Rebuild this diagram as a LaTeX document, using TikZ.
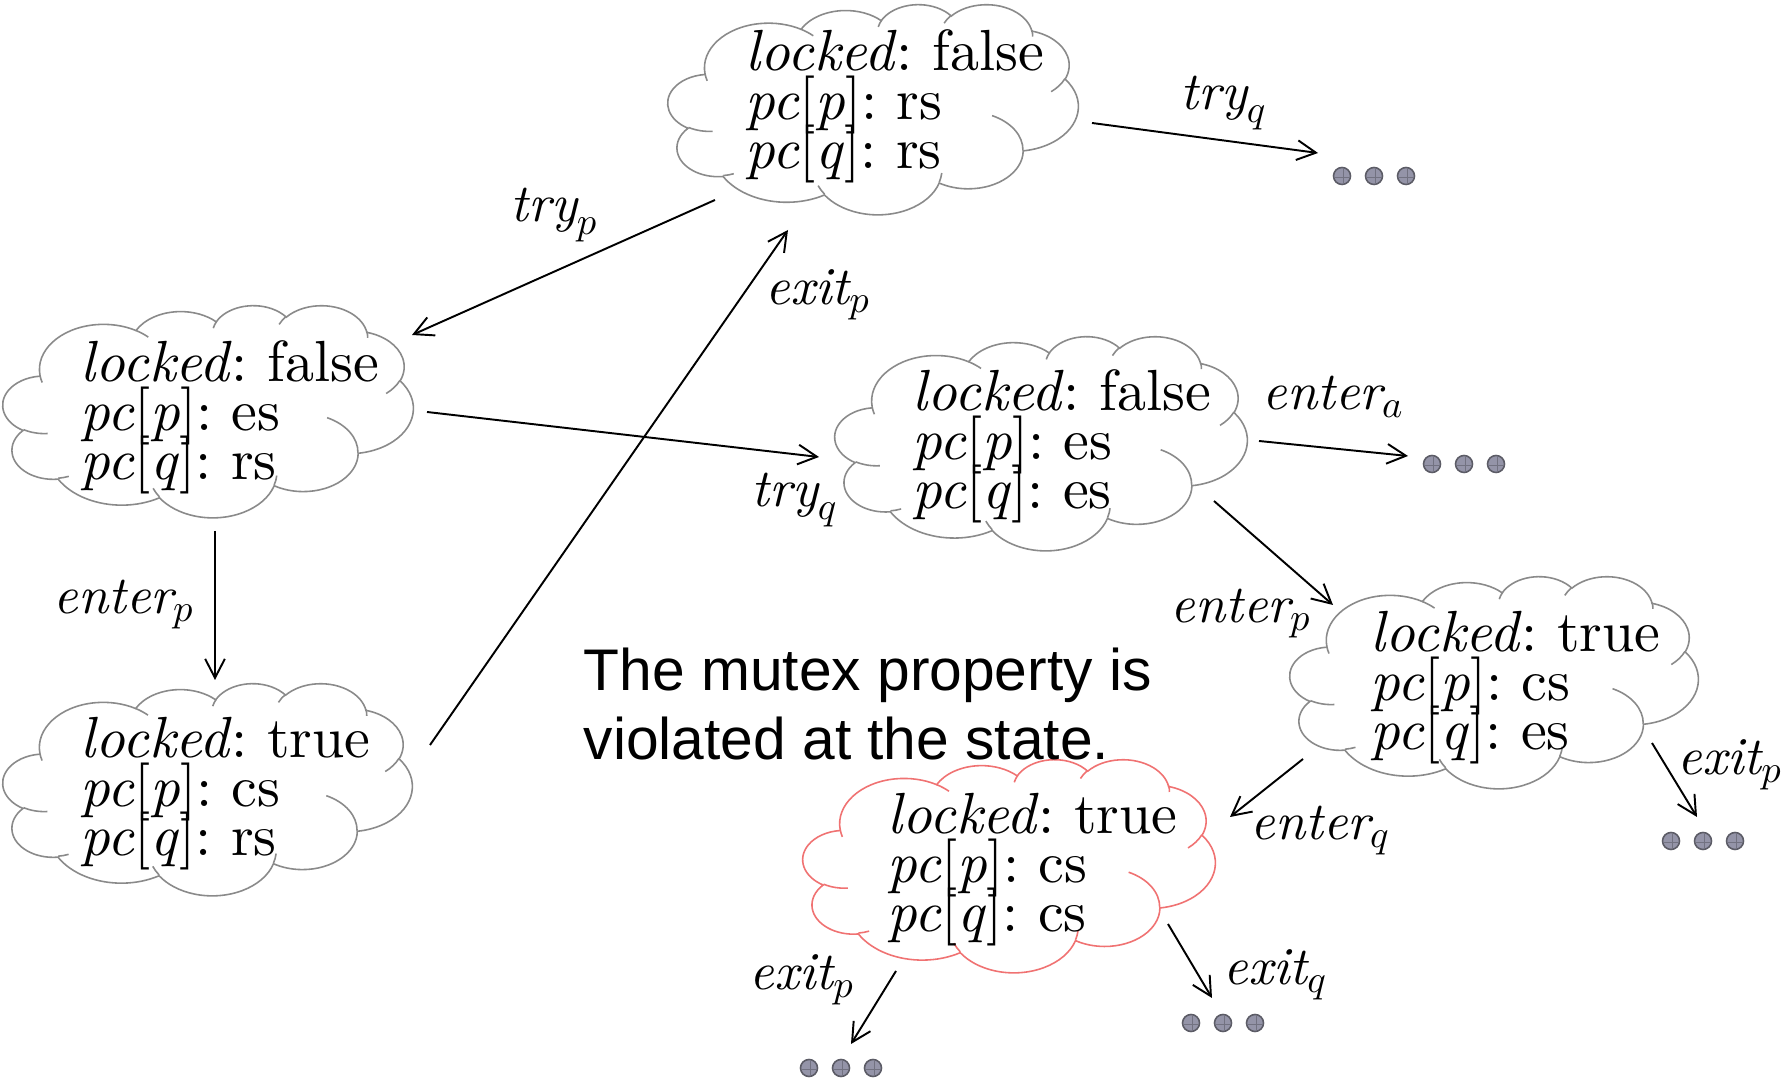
\documentclass[tikz,border=0pt]{standalone}
\usepackage{fontspec}
\setmainfont{lmroman10-regular.otf}[ItalicFont=lmroman10-italic.otf]
\newfontfamily\sansf{Liberation Sans}
\usetikzlibrary{arrows.meta}
\definecolor{cloudgray}{HTML}{8A8A8A}
\definecolor{cloudred}{HTML}{F07272}
\definecolor{dotfill}{HTML}{9494A8}
\definecolor{dotline}{HTML}{5C5C66}
\frenchspacing

% PowerPoint-like cloud: arcs given as (wR, hR, start angle, sweep) in path units (box 432 x 432)
\newcommand\ooprep[5]{%
 \pgfmathsetmacro\ooA{atan2((#2)*sin(#4),(#3)*cos(#4))}%
 \pgfmathsetmacro\ooB{atan2((#2)*sin((#4)+(#5)),(#3)*cos((#4)+(#5)))}%
 \pgfmathsetmacro\ooD{mod(\ooB-\ooA+720,360)}%
 \expandafter\xdef\csname oo#1\endcsname{arc[start angle=\ooA, delta angle=\ooD, x radius=#2, y radius=#3]}%
}
\ooprep{ma}{67.53}{91.90}{-190.4875}{123.7805}
\ooprep{mb}{53.33}{72.67}{-144.1024}{89.9452}
\ooprep{mc}{43.65}{59.45}{-145.8079}{99.7230}
\ooprep{md}{48.57}{65.95}{-130.9861}{117.2417}
\ooprep{me}{53.33}{72.73}{-78.7089}{109.0269}
\ooprep{mf}{67.75}{92.20}{-46.2673}{130.2690}
\ooprep{mg}{57.85}{78.67}{0.6250}{114.0333}
\ooprep{mh}{67.52}{92.15}{22.4516}{115.1726}
\ooprep{mi}{77.20}{105.43}{66.2426}{75.7110}
\ooprep{mj}{43.60}{59.18}{-274.9421}{146.7356}
\ooprep{mk}{43.45}{59.45}{-246.8285}{152.5189}
\ooprep{ia}{43.45}{59.45}{86.7420}{26.4295}
\ooprep{ib}{43.60}{59.18}{73.6105}{11.4475}
\ooprep{ic}{67.52}{92.15}{137.6242}{14.0811}
\ooprep{id}{67.52}{92.15}{6.4533}{15.9984}
\ooprep{ie}{57.85}{78.67}{-70.2924}{70.9174}
\ooprep{if}{53.33}{72.73}{30.3180}{27.7515}
\ooprep{ig}{48.57}{65.95}{-13.7443}{14.8589}
\ooprep{ih}{48.57}{65.95}{-149.1815}{18.1954}
\ooprep{ii}{43.65}{59.45}{-163.4943}{17.6864}
\ooprep{ij}{67.53}{91.90}{-66.7070}{12.3194}
\ooprep{ik}{67.53}{91.90}{157.6544}{11.8582}

\newcommand\cloudoutline{(39.00,143.70) \ooma \oomb \oomc \oomd \oome \oomf \oomg \oomh \oomi \oomj \oomk -- cycle}
\newcommand\cloudinner{(46.93,261.77) \ooia (69.28,348.99) \ooib (164.78,390.90) \ooic (288.27,347.51) \ooid (341.29,229.54) \ooie (417.98,153.54) \ooif (383.24,54.26) \ooig (290.78,39.52) \ooih (221.41,47.20) \ooii (140.00,51.92) \ooij (41.27,157.89) \ooik}

\newcommand\statecloud[6]{%
  \node[anchorpt] (#1) at ({#2+#4/2},{#3+#5/2}) {};
  \pgfmathsetlengthmacro\cux{#4/432*0.1mm}%
  \pgfmathsetlengthmacro\cuy{-#5/432*0.1mm}%
  \begin{scope}[shift={(#2,#3)}, x=\cux, y=\cuy]
    \draw[cloudline, draw=#6, fill=white] \cloudoutline;
    \draw[cloudline, draw=#6] \cloudinner;
  \end{scope}}

\newcommand\stxt[3]{\parbox[t]{4.5cm}{\raggedright\fontsize{16.5}{13.9}\selectfont\lineskiplimit=-\maxdimen #1\\#2\\#3}}

\newcommand\dotrow[2]{%
  \foreach \dx in {-32,0,32}{%
    \filldraw[fill=dotfill, draw=dotline, line width=0.45pt] ({#1+\dx},#2) circle[radius=0.085cm];
    \draw[dotline!60!dotfill, line width=0.25pt] ({#1+\dx-8},{#2+1}) -- ({#1+\dx+8},{#2+1}) ({#1+\dx+1},{#2-8}) -- ({#1+\dx+1},{#2+8});
  }}

\begin{document}
\begin{tikzpicture}[x=0.01cm, y=-0.01cm,
  cloudline/.style={line width=0.45pt},
  arr/.style={line width=0.55pt, -{Straight Barb[length=5.4pt,width=5.6pt]}},
  lbl/.style={anchor=base west, inner sep=0pt, font=\fontsize{15.2}{17}\selectfont},
  txt/.style={anchor=base west, inner sep=0pt},
  anchorpt/.style={inner sep=0pt, minimum size=0pt}]
\path[use as bounding box, fill=white] (0,0) rectangle (1784,1080);

% clouds
\statecloud{A}{668}{4}{410}{210}{cloudgray}
\statecloud{B}{3}{305}{410}{212}{cloudgray}
\statecloud{C}{835}{336}{412}{214}{cloudgray}
\statecloud{D}{3}{683}{409}{212}{cloudgray}
\statecloud{E}{1290}{576}{408}{212}{cloudgray}
\statecloud{F}{803}{759}{412}{213}{cloudred}

% state texts
\node[txt] (At) at (745,71) {\stxt{\textit{locked}: false}{\textit{pc}[\textit{p}]: rs}{\textit{pc}[\textit{q}]: rs}};
\node[txt] (Bt) at (80,382) {\stxt{\textit{locked}: false}{\textit{pc}[\textit{p}]: es}{\textit{pc}[\textit{q}]: rs}};
\node[txt] (Ct) at (912,411) {\stxt{\textit{locked}: false}{\textit{pc}[\textit{p}]: es}{\textit{pc}[\textit{q}]: es}};
\node[txt] (Dt) at (80,758) {\stxt{\textit{locked}: true}{\textit{pc}[\textit{p}]: cs}{\textit{pc}[\textit{q}]: rs}};
\node[txt] (Et) at (1370,652) {\stxt{\textit{locked}: true}{\textit{pc}[\textit{p}]: cs}{\textit{pc}[\textit{q}]: es}};
\node[txt] (Ft) at (887,834) {\stxt{\textit{locked}: true}{\textit{pc}[\textit{p}]: cs}{\textit{pc}[\textit{q}]: cs}};

% note
\node[txt] (msg) at (583,691) {\parbox[t]{8cm}{\sansf\fontsize{16.7}{19.35}\selectfont The mutex property is\\violated at the state.}};

% dots
\dotrow{1374}{176}
\dotrow{1464}{464}
\dotrow{1703}{841}
\dotrow{841}{1068}
\dotrow{1223}{1023}
\coordinate (t1) at (1318,153);
\coordinate (t2) at (1408,456);
\coordinate (t3) at (1697,817);
\coordinate (t4) at (851,1044);
\coordinate (t5) at (1212,998);

% connectors
\draw[arr] ([shift={(-158,91)}]A.center) -- ([shift={(204,-76)}]B.center);
\draw[arr] ([shift={(219,1)}]B.center) -- ([shift={(-222,14)}]C.center);
\draw[arr] ([shift={(7,120)}]B.center) -- ([shift={(7.5,-109)}]D.center);
\draw[arr] ([shift={(222.5,-44)}]D.center) -- ([shift={(-85,121)}]A.center);
\draw[arr] ([shift={(219,14)}]A.center) -- (t1);
\draw[arr] ([shift={(218,-2)}]C.center) -- (t2);
\draw[arr] ([shift={(173,58)}]C.center) -- ([shift={(-161,-77)}]E.center);
\draw[arr] ([shift={(-191,77)}]E.center) -- ([shift={(221,-48.5)}]F.center);
\draw[arr] ([shift={(158,61)}]E.center) -- (t3);
\draw[arr] ([shift={(-113,105.5)}]F.center) -- (t4);
\draw[arr] ([shift={(159,58.5)}]F.center) -- (t5);

% labels
\node[lbl] (l1) at (510,222) {$\mathit{try}_p$};
\node[lbl] (l2) at (765,305) {$\mathit{exit}_p$};
\node[lbl] (l3) at (1180,110) {$\mathit{try}_q$};
\node[lbl] (l4) at (751,507) {$\mathit{try}_q$};
\node[lbl] (l5) at (1262,410) {$\mathit{enter}_a$};
\node[lbl] (l6) at (53,614) {$\mathit{enter}_p$};
\node[lbl] (l7) at (1170,623) {$\mathit{enter}_p$};
\node[lbl] (l8) at (1250,840) {$\mathit{enter}_q$};
\node[lbl] (l9) at (1677,775) {$\mathit{exit}_p$};
\node[lbl] (l10) at (749,990) {$\mathit{exit}_p$};
\node[lbl] (l11) at (1223,985) {$\mathit{exit}_q$};
\end{tikzpicture}
\end{document}
